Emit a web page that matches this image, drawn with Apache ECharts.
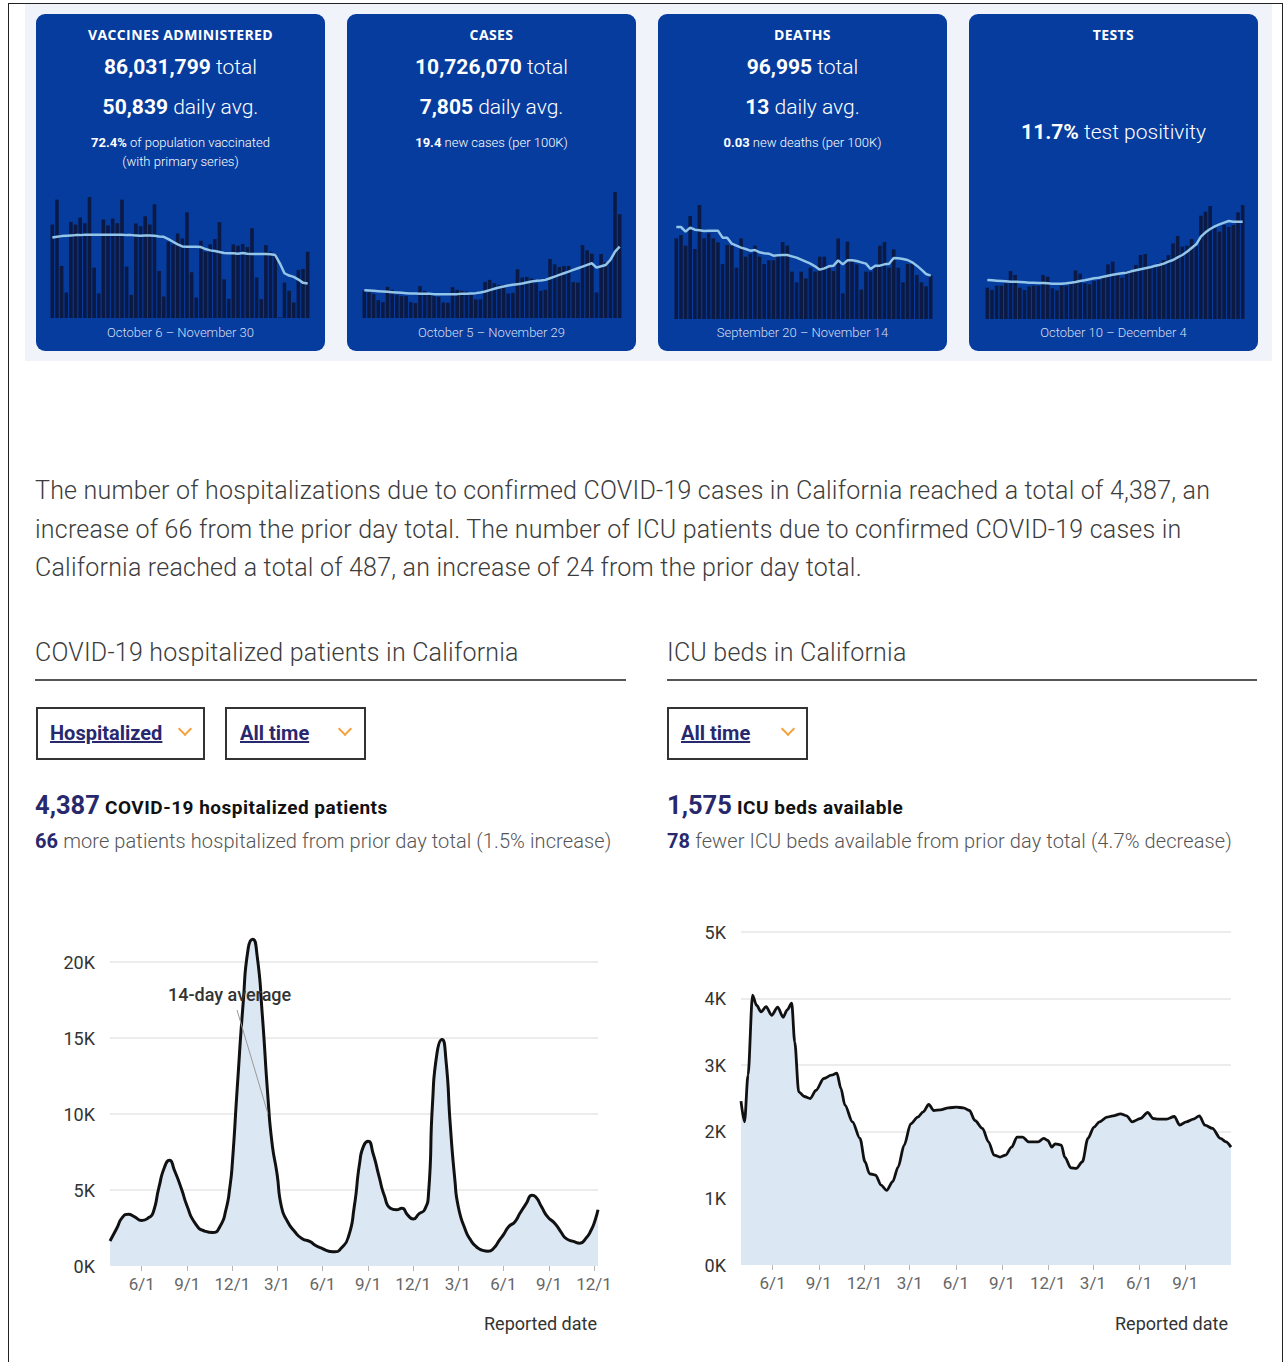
<!DOCTYPE html>
<html>
<head>
<meta charset="utf-8">
<title>California COVID-19 dashboard</title>
<script src="https://cdn.jsdelivr.net/npm/echarts@6/dist/echarts.min.js"></script>
<style>
body{margin:0;width:1283px;height:1362px;overflow:hidden;background:#fff;position:relative;font-family:Roboto,"Noto Sans",sans-serif;color:#333}
.abs{position:absolute}
#frame{left:8px;top:3px;width:1275px;height:1420px;border:1px solid #222;box-sizing:border-box}
#band{left:25px;top:4px;width:1247px;height:357px;background:#f1f3fb}
.card{top:14px;width:289px;height:337px;background:#063c9e;border-radius:9px;z-index:0}
.ct{position:absolute;left:0;width:100%;text-align:center;color:#fff;white-space:nowrap;z-index:2}
.ttl{font-family:"Open Sans",sans-serif;font-weight:700;font-size:14px;letter-spacing:.4px;line-height:20px}
.big{font-size:21px;line-height:26px;font-weight:300}
.big b{font-weight:700}
.sm{font-size:13px;line-height:18px;font-weight:300}
.sm b{font-weight:700}
.date{font-size:13px;line-height:18px;color:#d5def3;font-weight:300}
#chart{left:0;top:0;width:1283px;height:1362px;z-index:1}
.txt{z-index:2;white-space:nowrap}
#para{left:35px;top:472px;font-size:25px;letter-spacing:.22px;line-height:38.5px;font-weight:300;color:#3c3c3c}
.hdr{top:638px;font-size:25px;letter-spacing:.22px;line-height:30px;font-weight:300;color:#3c3c3c}
.rule{top:679px;height:2px;background:#555}
.dd{top:707px;height:53px;border:2px solid #333;box-sizing:border-box}
.ddt{position:absolute;top:12px;font-size:20px;line-height:24px;font-weight:700;color:#27286e;text-decoration:underline}
.chev{position:absolute;top:15px;width:8px;height:8px;border-right:2px solid #f5a13b;border-bottom:2px solid #f5a13b;transform:rotate(45deg)}
.stat{font-size:19px;letter-spacing:.5px;line-height:30px;font-weight:700;color:#111}
.stat span{font-size:25.5px;letter-spacing:0;color:#28296d}
.sub{font-size:20px;letter-spacing:.1px;line-height:26px;font-weight:300;color:#555}
.sub b{font-weight:700;color:#28296d}
</style>
</head>
<body>
<div id="frame" class="abs"></div>
<div id="band" class="abs"></div>

<div class="abs card" style="left:36px">
  <div class="ct ttl" style="top:11px">VACCINES ADMINISTERED</div>
  <div class="ct big" style="top:40px"><b>86,031,799</b> total</div>
  <div class="ct big" style="top:80px"><b>50,839</b> daily avg.</div>
  <div class="ct sm" style="top:120px"><b>72.4%</b> of population vaccinated</div>
  <div class="ct sm" style="top:139px">(with primary series)</div>
  <div class="ct date" style="top:310px">October 6 – November 30</div>
</div>
<div class="abs card" style="left:347px">
  <div class="ct ttl" style="top:11px">CASES</div>
  <div class="ct big" style="top:40px"><b>10,726,070</b> total</div>
  <div class="ct big" style="top:80px"><b>7,805</b> daily avg.</div>
  <div class="ct sm" style="top:120px"><b>19.4</b> new cases (per 100K)</div>
  <div class="ct date" style="top:310px">October 5 – November 29</div>
</div>
<div class="abs card" style="left:658px">
  <div class="ct ttl" style="top:11px">DEATHS</div>
  <div class="ct big" style="top:40px"><b>96,995</b> total</div>
  <div class="ct big" style="top:80px"><b>13</b> daily avg.</div>
  <div class="ct sm" style="top:120px"><b>0.03</b> new deaths (per 100K)</div>
  <div class="ct date" style="top:310px">September 20 – November 14</div>
</div>
<div class="abs card" style="left:969px">
  <div class="ct ttl" style="top:11px">TESTS</div>
  <div class="ct big" style="top:105px"><b>11.7%</b> test positivity</div>
  <div class="ct date" style="top:310px">October 10 – December 4</div>
</div>

<div id="chart" class="abs"></div>

<div id="para" class="abs txt">The number of hospitalizations due to confirmed COVID-19 cases in California reached a total of 4,387, an<br>increase of 66 from the prior day total. The number of ICU patients due to confirmed COVID-19 cases in<br>California reached a total of 487, an increase of 24 from the prior day total.</div>

<div class="abs txt hdr" style="left:35px">COVID-19 hospitalized patients in California</div>
<div class="abs rule" style="left:35px;width:591px"></div>
<div class="abs txt hdr" style="left:667px">ICU beds in California</div>
<div class="abs rule" style="left:667px;width:590px"></div>

<div class="abs dd" style="left:36px;width:169px"><span class="ddt" style="left:12px">Hospitalized</span><span class="chev" style="left:142px"></span></div>
<div class="abs dd" style="left:225px;width:141px"><span class="ddt" style="left:13px">All time</span><span class="chev" style="left:113px"></span></div>
<div class="abs dd" style="left:667px;width:141px"><span class="ddt" style="left:12px">All time</span><span class="chev" style="left:114px"></span></div>

<div class="abs txt stat" style="left:35px;top:790px"><span>4,387</span> COVID-19 hospitalized patients</div>
<div class="abs txt sub" style="left:35px;top:828px"><b>66</b> more patients hospitalized from prior day total (1.5% increase)</div>
<div class="abs txt stat" style="left:667px;top:790px"><span>1,575</span> ICU beds available</div>
<div class="abs txt sub" style="left:667px;top:828px"><b>78</b> fewer ICU beds available from prior day total (4.7% decrease)</div>

<script>
// ---- sparkline cards (56 days each) ----
const vaccStart = '2022-10-06';
const vaccDaily = [282,357,157,77,290,282,303,286,365,152,74,297,279,300,286,357,155,70,285,277,307,282,343,142,65,230,222,255,240,319,138,62,233,200,222,238,289,117,58,222,218,223,214,271,122,57,220,200,192,2,107,82,47,145,148,200];
const vaccAvg = [243,245,247,248,249,250,250,251,251,251,251,251,251,251,251,251,250,250,249,248,249,249,248,246,245,238,230,222,216,215,215,215,214,208,204,202,199,196,195,195,194,196,194,193,193,193,193,192,190,165,135,128,124,116,106,104];

const casesStart = '2022-10-05';
const casesDaily = [82,78,72,54,48,94,85,70,66,66,48,45,96,82,74,66,64,47,46,93,85,82,80,70,56,56,109,115,105,100,100,74,76,147,122,124,119,105,82,85,178,162,154,157,157,108,107,220,204,194,77,193,168,175,380,313];
const casesAvg = [84,83,82,81,80,79,78,77,76,75,74,74,73,73,73,72,72,72,72,72,72,73,73,74,75,77,80,84,88,92,95,98,100,102,104,107,110,112,113,115,120,125,130,135,140,145,150,155,160,165,152,156,160,175,200,215];

const deathsStart = '2022-09-20';
const deathsDaily = [242,252,220,309,210,342,242,257,242,230,165,222,220,154,242,187,196,220,187,165,176,176,192,231,220,142,110,142,122,154,142,187,187,154,144,242,77,232,177,164,88,142,142,154,220,231,154,209,154,110,165,165,132,110,98,130];
const deathsAvg = [276,276,262,274,268,266,264,265,265,265,244,244,226,220,214,210,205,207,200,197,196,190,191,192,192,188,184,178,172,166,158,148,152,158,160,176,164,176,176,174,170,166,150,160,160,164,166,183,182,180,177,170,160,148,135,130];

const testsStart = '2022-10-10';
const testsDaily = [94,87,100,100,107,144,132,94,87,97,100,100,132,127,92,86,100,100,110,146,136,107,104,114,117,127,164,172,136,124,144,147,162,192,195,152,162,167,177,192,227,249,217,220,240,220,310,322,339,274,262,282,276,282,320,342];
const testsAvg = [117,116,115,114,113,112,112,111,110,109,109,108,108,107,106,106,106,107,109,111,114,116,119,122,124,127,130,133,135,137,139,143,146,149,152,155,159,162,166,172,177,185,192,202,213,224,247,260,270,278,284,289,294,292,292,292];

// ---- hospitalized patients, 14-day average ----
const hospDates = ['2020-03-29','2020-04-12','2020-04-23','2020-05-05','2020-05-17','2020-06-01','2020-06-16','2020-06-24','2020-07-06','2020-07-17','2020-07-27','2020-08-06','2020-08-21','2020-08-31','2020-09-17','2020-10-06','2020-10-22','2020-11-06','2020-11-18','2020-11-26','2020-12-01','2020-12-11','2020-12-23','2021-01-02','2021-01-11','2021-01-20','2021-01-30','2021-02-11','2021-02-19','2021-03-01','2021-03-10','2021-03-21','2021-04-06','2021-04-21','2021-05-07','2021-05-18','2021-06-01','2021-06-14','2021-06-26','2021-07-08','2021-07-23','2021-08-04','2021-08-15','2021-08-23','2021-09-01','2021-09-11','2021-09-23','2021-10-04','2021-10-16','2021-10-28','2021-11-08','2021-11-20','2021-12-01','2021-12-13','2021-12-24','2022-01-01','2022-01-09','2022-01-18','2022-01-28','2022-02-05','2022-02-14','2022-02-23','2022-03-02','2022-03-16','2022-03-27','2022-04-08','2022-04-19','2022-05-01','2022-05-12','2022-05-24','2022-06-02','2022-06-12','2022-06-24','2022-07-05','2022-07-17','2022-07-29','2022-08-05','2022-08-17','2022-08-29','2022-09-13','2022-09-25','2022-10-06','2022-10-22','2022-11-02','2022-11-14','2022-11-25','2022-12-03','2022-12-09'];
const hospAvg = [1650,2500,3200,3400,3250,3000,3200,3500,5200,6500,6950,6300,5000,4000,2800,2300,2200,2600,3700,5200,6800,11800,17400,20900,21500,20400,16700,11000,8100,6100,3900,3000,2250,1800,1600,1350,1150,970,930,1150,1900,3900,6800,7900,8200,7400,5900,4600,3800,3700,3800,3350,3100,3450,3700,4800,10700,14000,14900,13600,9200,5700,3900,2400,1700,1250,1040,970,1150,1700,2100,2600,2900,3500,4100,4650,4550,3900,3250,2800,2250,1800,1600,1500,1800,2350,3000,3700];
const hospMin = '2020-03-29', hospMax = '2022-12-09';
const hospTicks = ['2020-06-01','2020-09-01','2020-12-01','2021-03-01','2021-06-01','2021-09-01','2021-12-01','2022-03-01','2022-06-01','2022-09-01','2022-12-01'];

// ---- ICU beds available, 14-day average ----
const icuDates = ['2020-03-30','2020-04-06','2020-04-13','2020-04-22','2020-04-30','2020-05-09','2020-05-19','2020-05-30','2020-06-11','2020-06-22','2020-06-30','2020-07-09','2020-07-15','2020-07-23','2020-08-03','2020-08-15','2020-08-26','2020-09-11','2020-09-26','2020-10-07','2020-10-15','2020-10-23','2020-11-07','2020-11-22','2020-12-02','2020-12-11','2020-12-23','2021-01-03','2021-01-14','2021-01-26','2021-02-06','2021-02-18','2021-03-03','2021-03-17','2021-03-28','2021-04-08','2021-04-18','2021-05-01','2021-05-17','2021-06-02','2021-06-16','2021-06-28','2021-07-09','2021-07-24','2021-08-05','2021-08-16','2021-08-28','2021-09-08','2021-09-20','2021-10-01','2021-10-12','2021-10-24','2021-11-12','2021-11-23','2021-12-01','2021-12-09','2021-12-16','2021-12-28','2022-01-04','2022-01-16','2022-01-27','2022-02-08','2022-02-19','2022-03-03','2022-03-14','2022-03-29','2022-04-10','2022-04-25','2022-05-07','2022-05-18','2022-06-04','2022-06-18','2022-06-29','2022-07-10','2022-07-26','2022-08-10','2022-08-21','2022-09-03','2022-09-17','2022-09-29','2022-10-10','2022-10-25','2022-11-10','2022-11-21','2022-12-01'];
const icuAvg = [2460,2150,2850,4050,3900,3800,3880,3750,3870,3720,3830,3930,3350,2600,2530,2500,2620,2800,2850,2880,2650,2400,2150,1900,1550,1370,1350,1200,1120,1250,1470,1800,2120,2220,2300,2410,2320,2330,2360,2370,2360,2320,2170,2050,1850,1650,1620,1650,1770,1920,1920,1850,1850,1900,1870,1770,1820,1800,1620,1460,1450,1550,1900,2070,2150,2220,2240,2270,2240,2150,2200,2290,2200,2190,2190,2230,2100,2150,2190,2240,2100,2050,1900,1850,1770];
const icuMin = '2020-03-30', icuMax = '2022-12-01';
const icuTicks = ['2020-06-01','2020-09-01','2020-12-01','2021-03-01','2021-06-01','2021-09-01','2021-12-01','2022-03-01','2022-06-01','2022-09-01'];

// helpers
const ts = s => { const p = s.split('-').map(Number); return new Date(p[0], p[1] - 1, p[2]).getTime(); };
const dayList = (start, n) => { const out = []; const t0 = ts(start); for (let i = 0; i < n; i++) { const d = new Date(t0 + i * 86400000); out.push((d.getMonth() + 1) + '/' + d.getDate()); } return out; };
const md = v => { const d = new Date(v); return (d.getMonth() + 1) + '/' + d.getDate(); };

const chart = echarts.init(document.getElementById('chart'), null, { renderer: 'svg' });

const cards = [
  { start: vaccStart, bars: vaccDaily, line: vaccAvg, grid: { left: 50, top: 197, width: 260, height: 121 } },
  { start: casesStart, bars: casesDaily, line: casesAvg, grid: { left: 362, top: 192, width: 260, height: 126 } },
  { start: deathsStart, bars: deathsDaily, line: deathsAvg, grid: { left: 674, top: 205, width: 259, height: 114 } },
  { start: testsStart, bars: testsDaily, line: testsAvg, grid: { left: 985, top: 205, width: 260, height: 114 } }
];

const grid = cards.map(c => c.grid);
grid.push({ left: 110, top: 886, width: 488, height: 380 });
grid.push({ left: 741, top: 932, width: 490, height: 333 });

const xAxis = cards.map((c, i) => ({ type: 'category', gridIndex: i, data: dayList(c.start, c.bars.length), show: false }));
const yAxis = cards.map((c, i) => ({ type: 'value', gridIndex: i, min: 0, max: 'dataMax', show: false }));

const grey = '#e6e6e6';
// dates as millisecond values on a value axis, with the quarterly ticks placed explicitly
function dateAxis(gi, min, max, ticks) {
  const vals = ticks.map(ts);
  return {
    type: 'value', gridIndex: gi, min: ts(min), max: ts(max), scale: true,
    axisLine: { show: false },
    splitLine: { show: false },
    axisTick: { show: true, customValues: vals, length: 5, lineStyle: { color: '#b5b5b5' } },
    axisLabel: { customValues: vals, formatter: md, color: '#666', fontSize: 17, margin: 9, fontFamily: 'Roboto', showMinLabel: true, showMaxLabel: true }
  };
}
xAxis.push(dateAxis(4, hospMin, hospMax, hospTicks));
xAxis.push(dateAxis(5, icuMin, icuMax, icuTicks));

const kLabel = { formatter: v => (v / 1000) + 'K', color: '#333', fontSize: 18, margin: 15, fontFamily: 'Roboto' };
yAxis.push({ type: 'value', gridIndex: 4, min: 0, max: 25000, interval: 5000,
  axisLine: { show: false }, axisTick: { show: false },
  axisLabel: Object.assign({ showMaxLabel: false }, kLabel),
  splitLine: { lineStyle: { color: ['transparent', grey, grey, grey, grey, 'transparent'], width: 1.5 } } });
yAxis.push({ type: 'value', gridIndex: 5, min: 0, max: 5000, interval: 1000,
  axisLine: { show: false }, axisTick: { show: false },
  axisLabel: kLabel,
  splitLine: { lineStyle: { color: ['transparent', grey, grey, grey, grey, grey], width: 1.5 } } });

const series = [];
cards.forEach((c, i) => {
  series.push({ type: 'bar', xAxisIndex: i, yAxisIndex: i, data: c.bars, barWidth: 3.6, itemStyle: { color: '#0b1a45' }, silent: true });
  series.push({ type: 'line', xAxisIndex: i, yAxisIndex: i, data: c.line, symbol: 'none', lineStyle: { color: '#93c5e8', width: 2.5 }, silent: true, z: 3 });
});
series.push({ type: 'line', xAxisIndex: 4, yAxisIndex: 4, data: hospDates.map((d, i) => [ts(d), hospAvg[i]]),
  smooth: 0.6, symbol: 'none', lineStyle: { color: '#111', width: 3 },
  areaStyle: { color: '#dce7f4', opacity: 1 }, silent: true });
series.push({ type: 'line', xAxisIndex: 5, yAxisIndex: 5, data: icuDates.map((d, i) => [ts(d), icuAvg[i]]),
  smooth: 0.3, smoothMonotone: 'x', symbol: 'none', lineStyle: { color: '#111', width: 2.8 },
  areaStyle: { color: '#dce7f4', opacity: 1 }, silent: true });

chart.setOption({
  animation: false,
  grid: grid,
  xAxis: xAxis,
  yAxis: yAxis,
  series: series,
  graphic: [
    { type: 'line', shape: { x1: 237, y1: 1010, x2: 268, y2: 1114 }, style: { stroke: '#999', lineWidth: 1 }, z: 10 },
    { type: 'text', x: 168, y: 994, style: { text: '14-day average', fontSize: 18, fontWeight: 500, fill: '#333', fontFamily: 'Roboto', verticalAlign: 'middle' }, z: 5 },
    { type: 'text', x: 597, y: 1323, style: { text: 'Reported date', fontSize: 18, fill: '#333', fontFamily: 'Roboto', align: 'right', verticalAlign: 'middle' } },
    { type: 'text', x: 1228, y: 1323, style: { text: 'Reported date', fontSize: 18, fill: '#333', fontFamily: 'Roboto', align: 'right', verticalAlign: 'middle' } }
  ]
});
</script>
</body>
</html>
